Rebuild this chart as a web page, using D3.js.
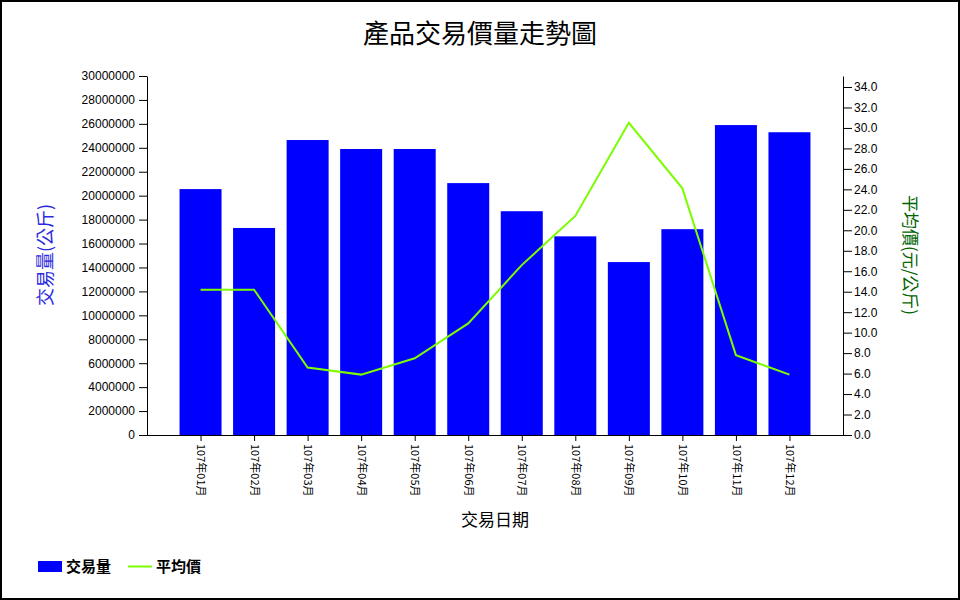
<!DOCTYPE html>
<html><head><meta charset="utf-8">
<script src="https://cdn.jsdelivr.net/npm/d3@7"></script>
<style>
body{margin:0;background:#fff;}
svg{display:block;}
</style></head>
<body>
<svg id="chart" width="960" height="600"></svg>
<script>
const months = ["107年01月","107年02月","107年03月","107年04月","107年05月","107年06月","107年07月","107年08月","107年09月","107年10月","107年11月","107年12月"];
const volumes = [20550000,17300000,24650000,23900000,23900000,21050000,18700000,16600000,14450000,17200000,25900000,25300000];
const prices = [14.2,14.2,6.6,5.9,7.5,10.9,16.6,21.4,30.5,24.1,7.8,5.9];
const leftTicks = d3.range(0, 30000001, 2000000);
const rightTicks = d3.range(0, 35, 2);

(function(){
const svg = d3.select("#chart");
const cjk = "'Noto Sans CJK TC','Noto Sans CJK SC',sans-serif";
const latin = "'Liberation Sans',Arial,sans-serif";

svg.append("rect").attr("x",1).attr("y",1).attr("width",958).attr("height",598)
  .attr("fill","#fff").attr("stroke","#000").attr("stroke-width",2);

const pL = 147, pR = 843, pT = 76, pB = 435;

const x = d3.scalePoint().domain(months).range([pL, pR]).padding(1);
const yL = d3.scaleLinear().domain([0, 30000000]).range([pB, pT]);
const yR = d3.scaleLinear().domain([0, d3.max(prices)*1.15]).range([pB, pT]);
const barW = 42;

svg.append("text").attr("x",480).attr("y",43).attr("text-anchor","middle")
  .style("font-family",cjk).style("font-size","26px").attr("fill","#000").text("產品交易價量走勢圖");

// bars
svg.append("g").selectAll("rect").data(volumes).join("rect")
  .attr("x",(d,i)=>x(months[i])-barW/2).attr("width",barW)
  .attr("y",d=>yL(d)).attr("height",d=>pB-yL(d)).attr("fill","#0000ff");

// line
const line = d3.line().x((d,i)=>x(months[i])).y(d=>yR(d));
svg.append("path").datum(prices).attr("d",line).attr("fill","none")
  .attr("stroke","#7cfc00").attr("stroke-width",2);

// axes
const gl = svg.append("g").attr("transform",`translate(${pL},0)`)
  .call(d3.axisLeft(yL).tickValues(leftTicks).tickFormat(d3.format("d")).tickSize(8).tickPadding(4).tickSizeOuter(0));
const gr = svg.append("g").attr("transform",`translate(${pR},0)`)
  .call(d3.axisRight(yR).tickValues(rightTicks).tickFormat(d3.format(".1f")).tickSize(9).tickPadding(2).tickSizeOuter(0));
const gx = svg.append("g").attr("transform",`translate(0,${pB})`)
  .call(d3.axisBottom(x).tickSize(6).tickSizeOuter(0));
gx.select(".domain").attr("d",`M${pL-8},0.5H${pR+9}`);
gx.selectAll("text").attr("transform","rotate(90)").attr("x",9).attr("y",0).attr("dy","0.35em")
  .attr("text-anchor","start").style("font-family",cjk).style("font-size","11px").attr("fill","#000");
[gl,gr].forEach(g=>g.selectAll("text").style("font-family",latin).style("font-size","12px").attr("fill","#000"));
[gl,gr,gx].forEach(g=>g.selectAll("line,path").attr("stroke","#000"));

// axis titles
svg.append("text").attr("transform","translate(52,255) rotate(-90)").attr("text-anchor","middle")
  .style("font-family",cjk).style("font-size","18px").attr("fill","#2a2ae0").text("交易量(公斤)");
svg.append("text").attr("transform","translate(904,255) rotate(90)").attr("text-anchor","middle")
  .style("font-family",cjk).style("font-size","17px").attr("fill","#006400").text("平均價(元/公斤)");
svg.append("text").attr("x",495).attr("y",526).attr("text-anchor","middle")
  .style("font-family",cjk).style("font-size","17px").attr("fill","#000").text("交易日期");

// legend
const lg = svg.append("g");
lg.append("rect").attr("x",38).attr("y",561).attr("width",24).attr("height",11).attr("fill","#0000ff");
lg.append("text").attr("x",66).attr("y",572).style("font-family",cjk).style("font-size","15px")
  .style("font-weight","bold").text("交易量");
lg.append("line").attr("x1",128).attr("x2",152).attr("y1",566.5).attr("y2",566.5)
  .attr("stroke","#7cfc00").attr("stroke-width",2);
lg.append("text").attr("x",156).attr("y",572).style("font-family",cjk).style("font-size","15px")
  .style("font-weight","bold").text("平均價");
})();
</script>
</body></html>
